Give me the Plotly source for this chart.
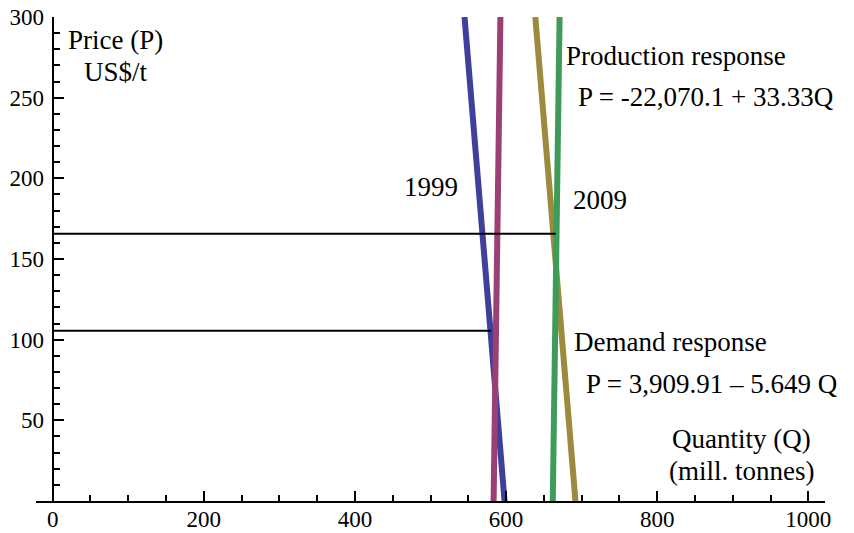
import plotly.graph_objects as go

# ---- data ----
price_ends = [0, 300]                 # P at the two ends of each response line
q_demand_1999 = [598.0, 545.0]        # Q at P=0 and P=300
q_supply_1999 = [583.5, 592.5]
q_demand_2009 = [691.8, 638.7]
q_supply_2009 = [661.8, 670.8]

price_1999 = 105.6
q_end_1999 = 580.1
price_2009 = 165.7
q_end_2009 = 665.7

x_tick_vals = [0, 200, 400, 600, 800, 1000]
y_tick_vals = [50, 100, 150, 200, 250, 300]

colors = {
    "d1999": "#3f3f9c",
    "s1999": "#9c3f72",
    "d2009": "#9c8a3f",
    "s2009": "#3f9c58",
}

X_MIN, X_MAX = -22, 1022
Y_MIN, Y_MAX = 0, 300

fig = go.Figure()

for q, key in [(q_demand_1999, "d1999"), (q_supply_1999, "s1999"),
               (q_demand_2009, "d2009"), (q_supply_2009, "s2009")]:
    fig.add_trace(go.Scatter(x=q, y=price_ends, mode="lines",
                             line=dict(color=colors[key], width=6),
                             hoverinfo="skip", showlegend=False))

for p, qe in [(price_1999, q_end_1999), (price_2009, q_end_2009)]:
    fig.add_trace(go.Scatter(x=[0, qe], y=[p, p], mode="lines",
                             line=dict(color="black", width=2),
                             hoverinfo="skip", showlegend=False))

serif = "Liberation Serif, Times New Roman, serif"
ann_font = dict(family=serif, size=27, color="black")

labels = [
    ("Price (P)", 19.1, 285.8, "left"),
    ("US$/t", 83.9, 265.9, "center"),
    ("1999", 463.7, 194.7, "left"),
    ("2009", 687.3, 186.6, "left"),
    ("Production response", 678.0, 275.9, "left"),
    ("P = -22,070.1 + 33.33Q", 693.9, 250.5, "left"),
    ("Demand response", 688.6, 98.6, "left"),
    ("P = 3,909.91 \u2013 5.649 Q", 704.5, 72.5, "left"),
    ("Quantity (Q)", 818.3, 38.4, "left"),
    ("(mill. tonnes)", 814.4, 18.6, "left"),
]
for text, x, y, anchor in labels:
    fig.add_annotation(x=x, y=y, xref="x", yref="y", text=text,
                       showarrow=False, xanchor=anchor, yanchor="middle",
                       font=ann_font, borderpad=0)

tick_font = dict(family=serif, size=23, color="black")

fig.update_layout(
    width=854, height=533,
    margin=dict(l=28, r=37, t=9, b=40, autoexpand=False),
    paper_bgcolor="white", plot_bgcolor="white",
    xaxis=dict(range=[X_MIN, X_MAX], showgrid=False, zeroline=False,
               automargin=False, ticklabeloverflow="allow",
               showline=True, linecolor="black", linewidth=2,
               ticks="inside", ticklen=10, tickwidth=1.5, tickcolor="black",
               tickvals=x_tick_vals, ticktext=[str(v) for v in x_tick_vals],
               tickfont=tick_font, ticklabelstandoff=-4,
               minor=dict(dtick=50, tick0=0, ticks="inside", ticklen=6,
                          tickwidth=1.5, tickcolor="black", showgrid=False)),
    yaxis=dict(range=[Y_MIN, Y_MAX], showgrid=False, zeroline=False,
               automargin=False, ticklabeloverflow="allow",
               anchor="free", position=(0 - X_MIN) / (X_MAX - X_MIN),
               showline=True, linecolor="black", linewidth=2,
               ticks="inside", ticklen=10, tickwidth=1.5, tickcolor="black",
               tickvals=y_tick_vals, ticktext=[str(v) for v in y_tick_vals],
               tickfont=tick_font, ticklabelstandoff=3,
               minor=dict(dtick=10, tick0=0, ticks="inside", ticklen=6,
                          tickwidth=1.5, tickcolor="black", showgrid=False)),
)

fig.write_html("out.html")
